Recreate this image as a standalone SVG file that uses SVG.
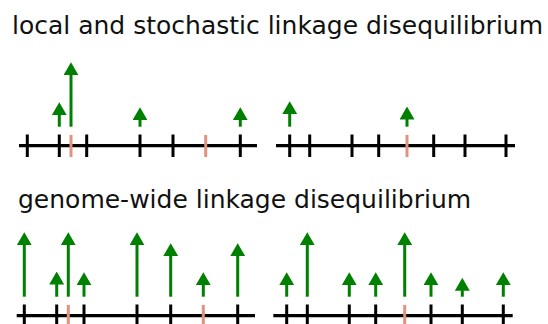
<svg xmlns="http://www.w3.org/2000/svg" width="548" height="324" viewBox="0 0 548 324">
  <style>
    .title { font-family: "DejaVu Sans", sans-serif; font-size: 25px; fill: #111; }
    .axis { stroke: #000; stroke-width: 3.2; fill: none; }
    .tick { stroke: #000; stroke-width: 3; }
    .site { stroke: #e3917c; stroke-width: 3; }
    .ld { stroke: #008000; stroke-width: 3; marker-end: url(#head); }
  </style>
  <defs>
    <marker id="head" viewBox="0 0 13 15" refX="0.5" refY="7.5" markerWidth="13" markerHeight="15" markerUnits="userSpaceOnUse" orient="auto">
      <path d="M0,0 L13,7.5 L0,15 Z" fill="#008000"/>
    </marker>
  </defs>

  <rect width="548" height="324" fill="#fff"/>

  <text class="title" x="12" y="34">local and stochastic linkage disequilibrium</text>
  <text class="title" x="18" y="208">genome-wide linkage disequilibrium</text>

  <!-- top left chromosome segment -->
  <g id="top-left">
    <line class="axis" x1="19" y1="145.7" x2="257" y2="145.7"/>
    <path class="tick" d="M27.3,134.5V157 M59.3,134.5V157 M86.7,134.5V157 M140,134.5V157 M173,134.5V157 M240.3,134.5V157"/>
    <path class="site" d="M71,135V157 M205.7,135V157"/>
  </g>

  <!-- top right chromosome segment -->
  <g id="top-right">
    <line class="axis" x1="276" y1="145.7" x2="515" y2="145.7"/>
    <path class="tick" d="M289.7,134.5V157 M309.7,134.5V157 M352,134.5V157 M378.7,134.5V157 M433.7,134.5V157 M465,134.5V157 M506,134.5V157"/>
    <path class="site" d="M407,135V157"/>
  </g>

  <!-- bottom left chromosome segment -->
  <g id="bottom-left">
    <line class="axis" x1="16.7" y1="315.7" x2="255" y2="315.7"/>
    <path class="tick" d="M24.3,304.5V327 M56.7,304.5V327 M84,304.5V327 M137,304.5V327 M170.7,304.5V327 M237.7,304.5V327"/>
    <path class="site" d="M68.3,305V327 M203.3,305V327"/>
  </g>

  <!-- bottom right chromosome segment -->
  <g id="bottom-right">
    <line class="axis" x1="273.3" y1="315.7" x2="512.7" y2="315.7"/>
    <path class="tick" d="M286.7,304.5V327 M307.3,304.5V327 M349.3,304.5V327 M375.7,304.5V327 M431,304.5V327 M462.3,304.5V327 M503.3,304.5V327"/>
    <path class="site" d="M404.7,305V327"/>
  </g>

  <!-- linkage arrows -->
  <g id="connectors">
    <line class="ld" x1="59.3" y1="126.7" x2="59.3" y2="114.7"/>
    <line class="ld" x1="71" y1="126.7" x2="71" y2="74.7"/>
    <line class="ld" x1="140" y1="126.7" x2="140" y2="119.7"/>
    <line class="ld" x1="240.3" y1="126.7" x2="240.3" y2="119.7"/>
    <line class="ld" x1="289.7" y1="126.7" x2="289.7" y2="113.7"/>
    <line class="ld" x1="407" y1="126.7" x2="407" y2="119"/>

    <line class="ld" x1="24.3" y1="296.7" x2="24.3" y2="244.7"/>
    <line class="ld" x1="56.7" y1="296.7" x2="56.7" y2="284"/>
    <line class="ld" x1="68.3" y1="296.7" x2="68.3" y2="244.7"/>
    <line class="ld" x1="84" y1="296.7" x2="84" y2="284.7"/>
    <line class="ld" x1="137" y1="296.7" x2="137" y2="244.7"/>
    <line class="ld" x1="170.7" y1="296.7" x2="170.7" y2="255.7"/>
    <line class="ld" x1="203.3" y1="296.7" x2="203.3" y2="284.7"/>
    <line class="ld" x1="237.7" y1="296.7" x2="237.7" y2="255.7"/>
    <line class="ld" x1="286.7" y1="296.7" x2="286.7" y2="284.7"/>
    <line class="ld" x1="307.3" y1="296.7" x2="307.3" y2="244.7"/>
    <line class="ld" x1="349.3" y1="296.7" x2="349.3" y2="284.7"/>
    <line class="ld" x1="375.7" y1="296.7" x2="375.7" y2="284.7"/>
    <line class="ld" x1="404.7" y1="296.7" x2="404.7" y2="244.7"/>
    <line class="ld" x1="431" y1="296.7" x2="431" y2="284.7"/>
    <line class="ld" x1="462.3" y1="296.7" x2="462.3" y2="290.3"/>
    <line class="ld" x1="503.3" y1="296.7" x2="503.3" y2="284.7"/>
  </g>
</svg>
